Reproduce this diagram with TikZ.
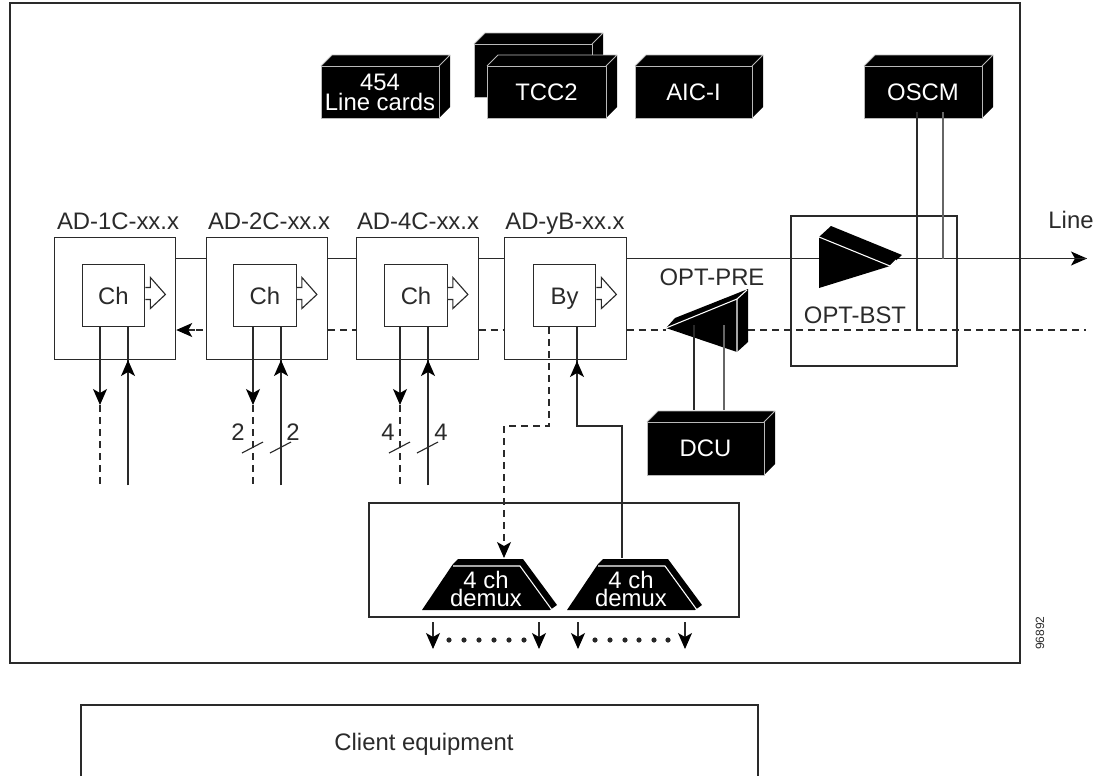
\documentclass[tikz,border=0pt]{standalone}
\usepackage{fontspec}
\setmainfont{Liberation Sans}
\usetikzlibrary{arrows.meta,calc}
\definecolor{ink}{HTML}{2A2A2A}
\tikzset{
  ln/.style={draw=ink,line width=0.85pt},
  dsh/.style={ln,dash pattern=on 5.2pt off 3.8pt},
  head/.style={-{Stealth[length=12pt,width=10.5pt,inset=3pt,color=black]}},
  lbl/.style={inner sep=0pt,text=ink,text height=12.8pt,text depth=0pt,font=\fontsize{17.9}{15}\selectfont},
  wlbl/.style={inner sep=0pt,text=white,align=center,font=\fontsize{17.9}{15}\selectfont},
  squarebox/.style={ln,inner sep=0pt,minimum width=91pt,minimum height=91pt},
  innerbox/.style={ln,fill=white,inner sep=0pt,minimum width=47pt,minimum height=47pt,text=ink,text height=12.8pt,text depth=0pt,font=\fontsize{17.9}{15}\selectfont},
  blk/.style={fill=black,draw=gray!55,line width=0.6pt,line join=round},
  whl/.style={draw=white,line width=0.8pt},
  glin/.style={draw=black!60,line width=0.85pt},
}
% name, x1, y1, x2, y2, depth, text
\newcommand\solidblock[7]{%
  \fill[black] (#2,#3) -- (#2+#6,#3-#6) -- (#4+#6,#3-#6) -- (#4+#6,#5-#6) -- (#4,#5) -- (#2,#5) -- cycle;
  \draw[draw=gray!55,line width=0.6pt,line join=round] (#2,#3) -- (#2+#6,#3-#6) -- (#4+#6,#3-#6) -- (#4,#3);
  \node[blk,inner sep=0pt,text=white,align=center,font=\fontsize{17.9}{15}\selectfont,
    minimum width={(#4-#2)*0.75pt},minimum height={(#5-#3)*0.75pt}] (#1) at ({(#2+#4)/2},{(#3+#5)/2}) {#7};%
}
% hollow arrow on east side of named box
\newcommand\hollowarrow[1]{%
  \draw[ln,fill=white,line join=miter] ($(#1.east)+(0,-8)$) -- ++(5,0) -- ++(0,-10) -- ++(15,17) -- ++(-15,14) -- ++(0,-9) -- ++(-5,0);
}
% demux: name, dx
\newcommand\demux[2]{%
  \fill[black] (453+#2,564) -- (458+#2,559) -- (523+#2,559) -- (557+#2,605) -- (550+#2,610) -- (422+#2,610) -- cycle;
  \draw[whl] (453+#2,566) -- (520+#2,566) -- (552+#2,610);
  \node[wlbl,font=\fontsize{17.9}{13}\selectfont] (#1) at (486+#2,589) {4 ch\\demux};
}
\begin{document}
\begin{tikzpicture}[x=0.75pt,y=-0.75pt]
\useasboundingbox (0,0) rectangle (1106,776);
\coordinate (main) at (0,258.5);
\coordinate (dash) at (0,330);
% frames
\node[ln,inner sep=0pt,minimum width=757.5pt,minimum height=495pt] (frame) at (515,333) {};
\draw[ln] (81,776) -- (81,705) -- (758,705) -- (758,776);
\node[lbl] (clienttxt) at (424,742) {Client equipment};
% main rails
\node[squarebox] (ad1) at (115,298.5) {};
\node[squarebox] (ad2) at (267,298.5) {};
\node[squarebox] (ad4) at (417.5,298.5) {};
\node[squarebox] (ady) at (565.5,298.5) {};
\node[ln,inner sep=0pt,minimum width=124.5pt,minimum height=112.5pt] (bst) at (874,291) {};
\node[lbl] at (118,221) {AD-1C-xx.x};
\node[lbl] at (269,221) {AD-2C-xx.x};
\node[lbl] at (418,221) {AD-4C-xx.x};
\node[lbl] at (565,221) {AD-yB-xx.x};
\node[lbl] at (712,277) {OPT-PRE};
\node[lbl] at (855,315) {OPT-BST};
\node[lbl] at (1071,220) {Line};
\node[innerbox] (ch1) at (113.5,295.5) {Ch};
\node[innerbox] (ch2) at (265,295.5) {Ch};
\node[innerbox] (ch4) at (416,295.5) {Ch};
\node[innerbox] (by) at (564.5,295.5) {By};
\hollowarrow{ch1}\hollowarrow{ch2}\hollowarrow{ch4}\hollowarrow{by}
\draw[ln] (ad1.east |- main) -- (ad2.west |- main);
\draw[ln] (ad2.east |- main) -- (ad4.west |- main);
\draw[ln] (ad4.east |- main) -- (ady.west |- main);
\coordinate (lineend) at (1087,258.5);
\coordinate (preend) at (666,330);
\coordinate (dashend) at (1086,330);
\draw[ln] (ady.east |- main) -- (819,258.5);
\draw[ln,head] (890,258.5) -- (lineend);
\coordinate (ad1tail) at (195,330);
\coordinate (ad1dash) at (203,330);
\draw[ln] (ad1dash) -- (196,330);
\draw[ln,head] (ad1tail) -- (ad1.east |- dash);
\draw[dsh] (ad2.east |- dash) -- (ad4.west |- dash);
\draw[dsh] (ad4.east |- dash) -- (ady.west |- dash);
\draw[dsh] (ady.east |- dash) -- (preend);
\draw[dsh] (748,330) -- (dashend);
% tributaries
\coordinate (d1) at (100,405); \coordinate (e1) at (100,485); \coordinate (u1) at (128,485);
\coordinate (d2) at (253,405); \coordinate (e2) at (253,485); \coordinate (u2) at (281,485);
\coordinate (d4) at (400,405); \coordinate (e4) at (400,485); \coordinate (u4) at (428,485);
\draw[ln,head] (ch1.south -| d1) -- (d1); \draw[dsh] (d1) -- (e1);
\draw[ln] (u1) -- (ch1.south -| u1); \draw[ln,head] (u1) -- (128,360);
\draw[ln,head] (ch2.south -| d2) -- (d2); \draw[dsh] (d2) -- (e2);
\draw[ln] (u2) -- (ch2.south -| u2); \draw[ln,head] (u2) -- (281,360);
\draw[ln,head] (ch4.south -| d4) -- (d4); \draw[dsh] (d4) -- (e4);
\draw[ln] (u4) -- (ch4.south -| u4); \draw[ln,head] (u4) -- (428,360);
\draw[ln] (242,453) -- (263,442); \draw[ln] (270,453) -- (291,442);
\draw[ln] (389,453) -- (410,442); \draw[ln] (417,453) -- (438,442);
\node[lbl] at (238,432) {2}; \node[lbl] at (293,432) {2};
\node[lbl] at (388,432) {4}; \node[lbl] at (441,432) {4};
% demux box and paths
\node[ln,inner sep=0pt,minimum width=277.5pt,minimum height=85.5pt] (dbox) at (554,560) {};
\demux{dm1}{0}
\demux{dm2}{145}
\draw[dsh,head] (by.south -| 549,0) -- (549,426) -- (504,426) -- (504,558);
\draw[ln] (622,558) -- (622,426) -- (577,426) -- (577,327);
\draw[ln,head] (577,426) -- (577,361);
% demux outs
\foreach \x/\n in {433/a,539/b,578/c,685/d}{
  \coordinate (out\n) at (\x,649);
  \draw[ln,head] (\x,622) -- (out\n);
}
\foreach \x in {449,464,479,494,509,524,595,610,625,639,654,668}
  \fill[black!85] (\x,640) circle[radius=2.6];
% blocks
\solidblock{lcards}{321}{66}{439}{118}{11}{454\\Line cards}
\solidblock{tccb}{474}{44}{592}{97}{11}{}
\solidblock{tcc}{487}{66}{606}{118}{11}{TCC2}
\solidblock{aic}{635}{66}{752}{118}{11}{AIC-I}
\solidblock{oscm}{864}{66}{982}{118}{11}{OSCM}
\solidblock{dcu}{647}{422}{764}{475}{11}{DCU}
% amps
\fill[black] (819,237) -- (831,226) -- (902,255) -- (890,266) -- (819,288) -- cycle;
\draw[whl] (819,237) -- (890,266) -- (896,260);
\draw[ln] (902,258.5) -- (lineend);
\fill[black] (666,328) -- (675,318) -- (748,289) -- (748,342) -- (737,352) -- cycle;
\draw[whl] (666,328) -- (737,299) -- (737,352);
\draw[whl] (737,299) -- (747,290);
% tap lines
\draw[ln] (917,112) -- (917,330);
\draw[glin] (943,112) -- (943,258.5);
\draw[ln] (694,325) -- (694,410);
\draw[glin] (724,325) -- (724,410);
\node[inner sep=0pt,rotate=90,text=ink,font=\fontsize{9}{10}\selectfont] (code) at (1040,633) {96892};
\end{tikzpicture}
\end{document}
